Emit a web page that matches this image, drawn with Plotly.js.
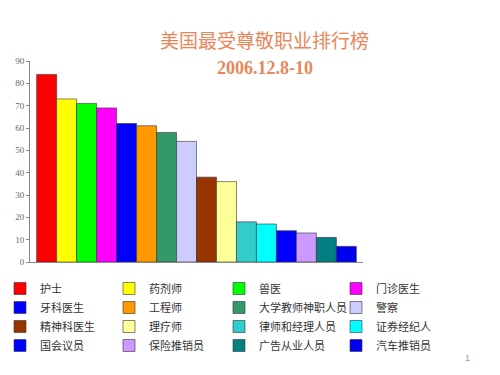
<!DOCTYPE html>
<html><head><meta charset="utf-8">
<script src="https://cdn.plot.ly/plotly-3.0.1.min.js"></script>
<style>body{margin:0;background:#fff}#c{width:500px;height:375px}</style>
</head><body><div id="c"></div>
<script>
const jobs = ['护士','药剂师','兽医','门诊医生','牙科医生','工程师','大学教师神职人员','警察','精神科医生','理疗师','律师和经理人员','证券经纪人','国会议员','保险推销员','广告从业人员','汽车推销员'];
const values = [84,73,71,69,62,61,58,54,38,36,18,17,14,13,11,7];
const colors = ['#FF0000','#FFFF00','#00FF00','#FF00FF','#0000FF','#FF9900','#339966','#CCCCFF','#993300','#FFFF99','#33CCCC','#00FFFF','#0000FF','#CC99FF','#008080','#0000EE'];
const yTicks = [0,10,20,30,40,50,60,70,80,90];
const legendCols = ['legend','legend2','legend3','legend4'];

const traces = jobs.map((j,i)=>({
  type:'bar', name:j, x:[''], y:[values[i]],
  legend: legendCols[i%4],
  marker:{color:colors[i], line:{color:'#333333', width:0.6}},
  hoverinfo:'name+y'
}));

const legFont = {family:'Noto Sans CJK SC, sans-serif', size:11, color:'#333'};
function leg(x){ return {orientation:'v', xref:'container', yref:'container', x:x, y:1-(274/375), xanchor:'left', yanchor:'top', font:legFont, itemwidth:30, bgcolor:'rgba(0,0,0,0)', tracegroupgap:0}; }

const layout = {
  width:500, height:375,
  margin:{l:30, r:137, t:61, b:113, autoexpand:false},
  paper_bgcolor:'#fff', plot_bgcolor:'#fff',
  barmode:'group', bargap:0.04, bargroupgap:0,
  showlegend:true,
  legend:leg(0), legend2:leg(109/500), legend3:leg(219/500), legend4:leg(336/500),
  xaxis:{showticklabels:false, showline:true, linecolor:'#888', linewidth:1, ticks:'', showgrid:false, zeroline:false},
  yaxis:{range:[0,90], tickvals:yTicks, ticks:'outside', ticklen:3, tickcolor:'#888',
    showline:true, linecolor:'#888', linewidth:1, showgrid:false, zeroline:false,
    tickfont:{family:'Liberation Serif, serif', size:9, color:'#666'}},
  annotations:[
    {text:'美国最受尊敬职业排行榜', xref:'paper', yref:'paper', x:(264-30)/333, y:(262-40)/201, xanchor:'center', yanchor:'middle', showarrow:false,
      font:{family:'Noto Sans CJK SC, sans-serif', size:19, color:'#E8875A'}},
    {text:'<b>2006.12.8-10</b>', xref:'paper', yref:'paper', x:(265-30)/333, y:(262-68)/201, xanchor:'center', yanchor:'middle', showarrow:false,
      font:{family:'Liberation Serif, serif', size:18, color:'#E8875A'}},
    {text:'1', xref:'paper', yref:'paper', x:(467-30)/333, y:(262-358)/201, xanchor:'center', yanchor:'middle', showarrow:false,
      font:{family:'Liberation Sans, sans-serif', size:9, color:'#999'}}
  ]
};
Plotly.newPlot('c', traces, layout, {displayModeBar:false, staticPlot:true});
</script></body></html>
